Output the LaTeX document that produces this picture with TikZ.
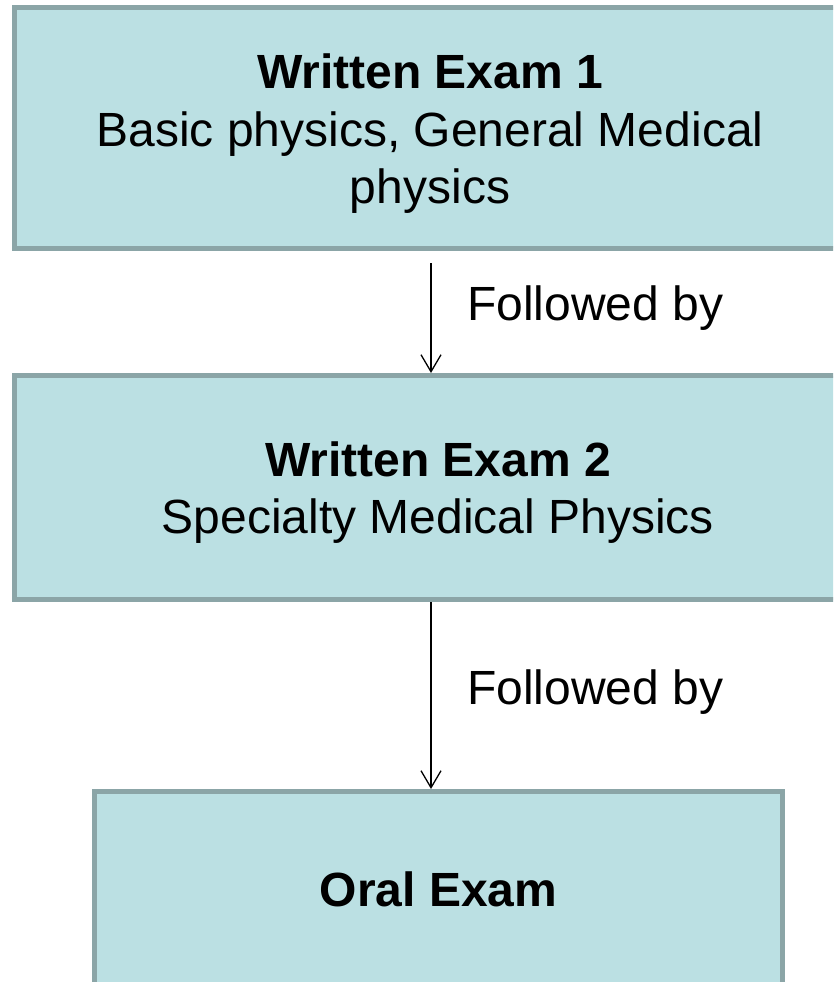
\documentclass[tikz,border=0pt]{standalone}
\usepackage{fontspec}
\setmainfont{Liberation Sans}
\usetikzlibrary{arrows.meta}
\definecolor{boxfill}{RGB}{187,224,227}
\definecolor{boxline}{RGB}{139,165,167}
\tikzset{
  stagebox/.style={draw=boxline, fill=boxfill, line width=5pt, inner sep=0pt},
  stagetext/.style={inner sep=0pt, align=center, font=\fontsize{48}{57.6}\selectfont},
  flowarrow/.style={draw=black, line width=1.3pt, -{Straight Barb[length=17pt,width=20pt,line width=1.3pt]}},
  flowlabel/.style={anchor=base west, inner sep=0pt, font=\fontsize{48}{57.6}\selectfont}
}
\begin{document}
\begin{tikzpicture}[x=1pt,y=1pt]
\useasboundingbox (0,0) rectangle (833,-982);
\clip (0,0) rectangle (833,-982);
\node[stagebox, minimum width=831pt, minimum height=240.5pt] (b1) at (430,-127.75) {};
\node[stagebox, minimum width=847pt, minimum height=224pt] (b2) at (438,-487.5) {};
\node[stagebox, minimum width=688pt, minimum height=195pt] (b3) at (438.5,-889) {};
\node[stagetext] (t1) at ([yshift=-6pt]b1.center)
  {\textbf{Written Exam 1}\\Basic physics, General Medical\\physics};
\node[stagetext] (t2) at ([yshift=-5pt]b2.center)
  {\textbf{Written Exam 2}\\Specialty Medical Physics};
\node[stagetext] (t3) at (b3.center) {\textbf{Oral Exam}};
\coordinate (ax) at (431,0);
\draw[flowarrow] ([yshift=-12.5pt]b1.south -| ax) -- (b2.north -| ax);
\draw[flowarrow] (b2.south -| ax) -- (b3.north -| ax);
\node[flowlabel] (l1) at (467,-320) {Followed by};
\node[flowlabel] (l2) at (467,-704) {Followed by};
\end{tikzpicture}
\end{document}
